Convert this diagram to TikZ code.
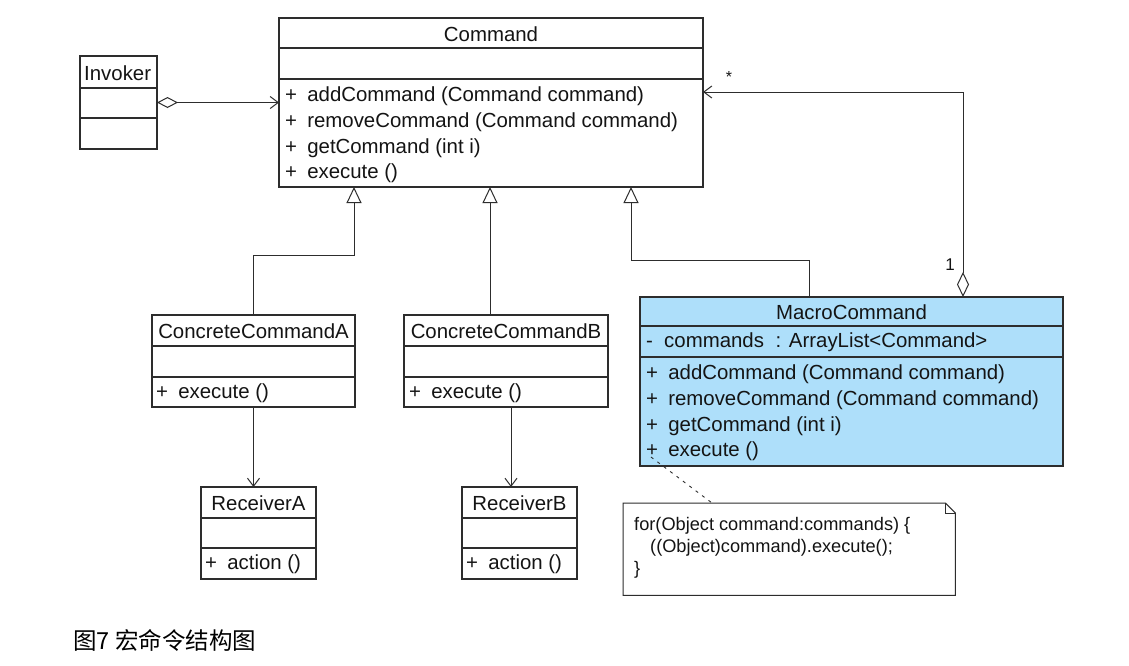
\documentclass[tikz,border=0pt]{standalone}
\usepackage{fontspec}
\setmainfont{Liberation Sans}
\newfontfamily\cjk{Noto Sans CJK SC}
\usetikzlibrary{arrows.meta,calc}
\definecolor{ln}{RGB}{45,45,45}
\definecolor{mcblue}{RGB}{174,223,250}
\begin{document}
\begin{tikzpicture}[x=1pt,y=-1pt,
  box/.style={draw=ln,line width=1.1pt,fill=white,anchor=north west,inner sep=0pt,outer sep=0pt},
  div/.style={draw=ln,line width=1.1pt},
  txt/.style={inner sep=0pt,font=\fontsize{20.4}{25.8}\selectfont,text=black!92,align=left,yshift=-1.5pt},
  conn/.style={draw=ln,line width=1pt},
  gen/.style={conn,-{Triangle[open,length=16pt,width=15pt]}},
  dep/.style={conn,-{Straight Barb[length=8pt,width=12pt]}},
  agg/.style={conn,{Diamond[open,length=21pt,width=11pt]}-{Straight Barb[length=8pt,width=12pt]}},
  aggb/.style={conn,{Diamond[open,length=25pt,width=12pt]}-{Straight Barb[length=8pt,width=12pt]}},
  notetxt/.style={inner sep=0pt,font=\fontsize{18.2}{22}\selectfont,text=black!92,align=left}
]
\fill[white] (0,0) rectangle (1129,665);
\useasboundingbox (0,0) rectangle (1129,665);

% Invoker
\node[box,minimum width=77pt,minimum height=93pt] (inv) at (80,56) {};
\draw[div] (80,88) -- (157,88);
\draw[div] (80,118) -- (157,118);
\node[txt,anchor=west] (invn) at (84,72) {Invoker};

% Command
\node[box,minimum width=424pt,minimum height=169pt] (cmd) at (279,18) {};
\draw[div] (279,48) -- (703,48);
\draw[div] (279,79) -- (703,79);
\node[txt] (cmdn) at (491,33) {Command};
\node[txt,anchor=west] (cmdm) at (285,133.5) {+\hspace{0.5em}addCommand (Command command)\\+\hspace{0.5em}removeCommand (Command command)\\+\hspace{0.5em}getCommand (int i)\\+\hspace{0.5em}execute ()};

% ConcreteCommandA
\node[box,minimum width=203pt,minimum height=92pt] (cca) at (152,315) {};
\draw[div] (152,346) -- (355,346);
\draw[div] (152,377) -- (355,377);
\node[txt] (ccan) at (253.5,330) {ConcreteCommandA};
\node[txt,anchor=west] (ccam) at (156,392) {+\hspace{0.5em}execute ()};

% ConcreteCommandB
\node[box,minimum width=204pt,minimum height=92pt] (ccb) at (404,315) {};
\draw[div] (404,346) -- (608,346);
\draw[div] (404,377) -- (608,377);
\node[txt] (ccbn) at (506,330) {ConcreteCommandB};
\node[txt,anchor=west] (ccbm) at (409,392) {+\hspace{0.5em}execute ()};

% ReceiverA
\node[box,minimum width=115pt,minimum height=92pt] (ra) at (201,487) {};
\draw[div] (201,518) -- (316,518);
\draw[div] (201,548) -- (316,548);
\node[txt] (ran) at (258.5,502) {ReceiverA};
\node[txt,anchor=west] (ram) at (205,563) {+\hspace{0.5em}action ()};

% ReceiverB
\node[box,minimum width=115pt,minimum height=92pt] (rb) at (462,487) {};
\draw[div] (462,518) -- (577,518);
\draw[div] (462,548) -- (577,548);
\node[txt] (rbn) at (519.5,502) {ReceiverB};
\node[txt,anchor=west] (rbm) at (466,563) {+\hspace{0.5em}action ()};

% MacroCommand
\node[box,fill=mcblue,minimum width=423pt,minimum height=169pt] (mc) at (640,297) {};
\draw[div] (640,326) -- (1063,326);
\draw[div] (640,357) -- (1063,357);
\node[txt] (mcn) at (851.5,311) {MacroCommand};
\node[txt,anchor=west] (mca) at (646,341) {-\hspace{0.55em}commands\hspace{0.3em} : ArrayList<Command>};
\node[txt,anchor=west] (mcm) at (646,411.5) {+\hspace{0.5em}addCommand (Command command)\\+\hspace{0.5em}removeCommand (Command command)\\+\hspace{0.5em}getCommand (int i)\\+\hspace{0.5em}execute ()};

% Note
\node[inner sep=0pt,minimum width=332pt,minimum height=92pt,anchor=north west] (note) at (623,503) {};
\draw[draw=ln,line width=1pt,fill=white] (note.north west) -- ($(note.north east)+(-10,0)$) -- ($(note.north east)+(0,10)$) -- (note.south east) -- (note.south west) -- cycle;
\draw[draw=ln,line width=1pt] ($(note.north east)+(-10,0)$) -- ($(note.north east)+(-10,10)$) -- ($(note.north east)+(0,10)$);
\node[notetxt,anchor=west] (notet) at (634,548) {for(Object command:commands) \{\\\hspace{16pt}((Object)command).execute();\\\}};

% Connectors
\draw[agg] (inv.east) -- (inv.east -| cmd.west);
\coordinate (gA) at (354,187);
\coordinate (gB) at (490,187);
\coordinate (gC) at (631,187);
\draw[gen] (cca.north) -- ++(0,-60) -| (gA);
\draw[gen] (ccb.north -| gB) -- (gB);
\coordinate (mcT) at (809,297);
\draw[gen] (mcT) -- ++(0,-37) -| (gC);
\coordinate (mcA) at (963,297);
\coordinate (cmdR) at (703,92);
\draw[aggb] (mcA) |- (cmdR);
\node[txt,font=\fontsize{16}{16}\selectfont] (star) at (729,75) {*};
\node[txt,font=\fontsize{17}{17}\selectfont] (one) at (950,263) {1};
\draw[dep] (cca.south) -- (cca.south |- ra.north);
\coordinate (dB) at (511,407);
\draw[dep] (dB) -- (dB |- rb.north);
\coordinate (nA) at (651,457);
\coordinate (nT) at (712,503);
\draw[draw=ln,line width=0.9pt,dash pattern=on 3pt off 5pt] (nA) -- (nT);

% Caption
\node[inner sep=0pt,anchor=west,font=\cjk\fontsize{23.5}{23.5}\selectfont] (cap) at (73,640) {图7 宏命令结构图};
\end{tikzpicture}
\end{document}
